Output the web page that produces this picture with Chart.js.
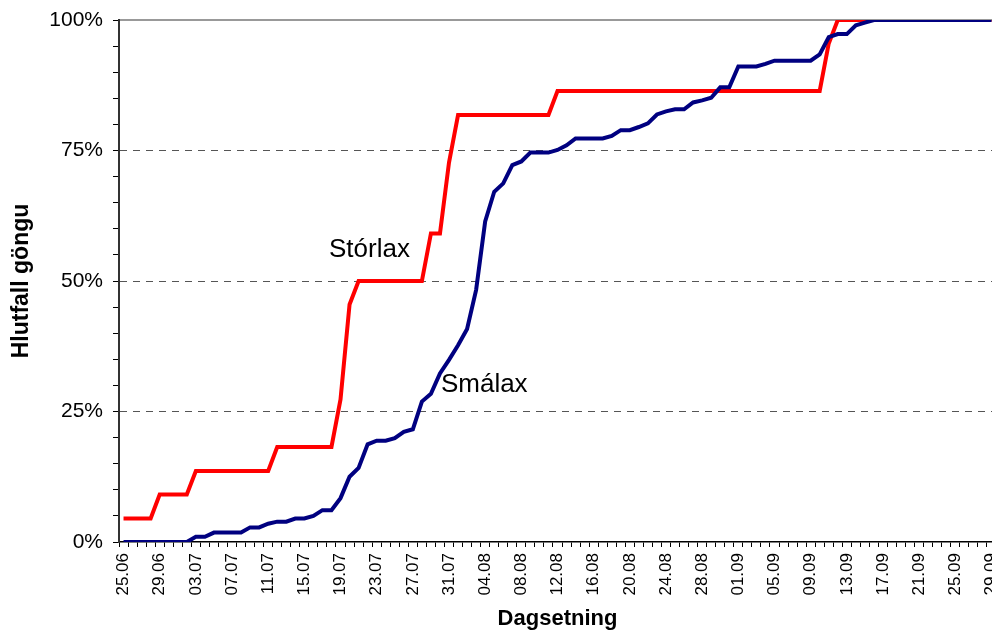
<!DOCTYPE html>
<html>
<head>
<meta charset="utf-8">
<script src="https://cdn.jsdelivr.net/npm/chart.js@4/dist/chart.umd.min.js"></script>
<style>
  html, body { margin: 0; padding: 0; background: #fff; overflow: hidden; }
  #wrap { width: 1000px; height: 632px; position: relative; }
</style>
</head>
<body>
<div id="wrap"><canvas id="myChart"></canvas></div>
<script>
// dagsetningar 25.06 - 29.09
const dates = [
  '25.06','26.06','27.06','28.06','29.06','30.06',
  '01.07','02.07','03.07','04.07','05.07','06.07','07.07','08.07','09.07','10.07','11.07','12.07','13.07','14.07','15.07','16.07',
  '17.07','18.07','19.07','20.07','21.07','22.07','23.07','24.07','25.07','26.07','27.07','28.07','29.07','30.07','31.07',
  '01.08','02.08','03.08','04.08','05.08','06.08','07.08','08.08','09.08','10.08','11.08','12.08','13.08','14.08','15.08','16.08',
  '17.08','18.08','19.08','20.08','21.08','22.08','23.08','24.08','25.08','26.08','27.08','28.08','29.08','30.08','31.08',
  '01.09','02.09','03.09','04.09','05.09','06.09','07.09','08.09','09.09','10.09','11.09','12.09','13.09','14.09','15.09','16.09',
  '17.09','18.09','19.09','20.09','21.09','22.09','23.09','24.09','25.09','26.09','27.09','28.09','29.09'
];

// merktar dagsetningar a x-as
const xTickLabels = ['25.06','29.06','03.07','07.07','11.07','15.07','19.07','23.07','27.07','31.07','04.08','08.08',
  '12.08','16.08','20.08','24.08','28.08','01.09','05.09','09.09','13.09','17.09','21.09','25.09','29.09'];

const yTickLabels = [0, 25, 50, 75, 100];

// Stórlax, uppsafnad hlutfall (%)
const storlax = [
  4.5, 4.5, 4.5, 4.5, 9.1, 9.1, 9.1, 9.1,
  13.6, 13.6, 13.6, 13.6, 13.6, 13.6, 13.6, 13.6, 13.6,
  18.2, 18.2, 18.2, 18.2, 18.2, 18.2, 18.2,
  27.3, 45.5, 50, 50, 50, 50, 50, 50, 50, 50,
  59.1, 59.1, 72.7,
  81.8, 81.8, 81.8, 81.8, 81.8, 81.8, 81.8, 81.8, 81.8, 81.8, 81.8,
  86.4, 86.4, 86.4, 86.4, 86.4, 86.4, 86.4, 86.4, 86.4, 86.4,
  86.4, 86.4, 86.4, 86.4, 86.4, 86.4, 86.4, 86.4, 86.4, 86.4,
  86.4, 86.4, 86.4, 86.4, 86.4, 86.4, 86.4, 86.4, 86.4, 86.4,
  95.5,
  100, 100, 100, 100, 100, 100, 100, 100, 100, 100, 100, 100, 100, 100, 100, 100, 100, 100
];

// Smálax, uppsafnad hlutfall (%)
const smalax = [
  0, 0, 0, 0, 0, 0, 0, 0,
  1.0, 1.0, 1.8, 1.8, 1.8, 1.8, 2.8, 2.8, 3.5, 3.9, 3.9, 4.5, 4.5, 5.0, 6.1, 6.1,
  8.4, 12.5, 14.2, 18.7, 19.4, 19.4, 19.9, 21.1, 21.6, 26.9, 28.4, 32.3, 34.9, 37.7, 40.8, 48.3,
  61.4, 67.1, 68.7, 72.2, 72.9, 74.6, 74.6, 74.6, 75.1, 76.0, 77.3, 77.3, 77.3, 77.3, 77.8,
  78.9, 78.9, 79.5, 80.2, 81.9, 82.5, 82.9, 82.9, 84.2, 84.6, 85.1, 87.1, 87.1,
  91.1, 91.1, 91.1, 91.6, 92.2, 92.2, 92.2, 92.2, 92.2, 93.4, 96.7, 97.3, 97.3, 99.0, 99.5,
  100, 100, 100, 100, 100, 100, 100, 100, 100, 100, 100, 100, 100, 100
];

// textar inni i myndinni (stadsetning i gognum: dagur nr., %)
const notes = [
  { text: 'Stórlax', day: 27.2, pct: 54.6 },
  { text: 'Smálax', day: 39.9, pct: 28.7 }
];

const FONT = "'Liberation Sans', Arial, sans-serif";

const notePlugin = {
  id: 'notes',
  afterDatasetsDraw(chart) {
    const c = chart.ctx;
    const xs = chart.scales.x, ys = chart.scales.y;
    c.save();
    c.font = '26px ' + FONT;
    c.fillStyle = '#000';
    c.textAlign = 'center';
    c.textBaseline = 'alphabetic';
    notes.forEach(n => {
      c.fillText(n.text, xs.getPixelForValue(n.day), ys.getPixelForValue(n.pct));
    });
    c.restore();
  }
};

const ctx = document.getElementById('myChart');

new Chart(ctx, {
  type: 'line',
  data: {
    labels: dates,
    datasets: [{
      label: 'Smálax',
      data: smalax,
      borderColor: '#000080',
      borderWidth: 4,
      pointRadius: 0,
      tension: 0
    }, {
      label: 'Stórlax',
      data: storlax,
      borderColor: '#ff0000',
      borderWidth: 4,
      pointRadius: 0,
      tension: 0
    }]
  },
  options: {
    responsive: true,
    maintainAspectRatio: false,
    animation: false,
    layout: { padding: { top: 20, right: 4, left: 0, bottom: 0 } },
    plugins: {
      legend: { display: false },
      tooltip: { enabled: false }
    },
    scales: {
      x: {
        offset: true,
        grid: {
          offset: true,
          drawOnChartArea: false,
          drawTicks: true,
          tickLength: 5,
          tickColor: '#000'
        },
        border: { color: '#000', width: 1.5 },
        ticks: {
          autoSkip: false,
          minRotation: 90,
          maxRotation: 90,
          padding: 6,
          color: '#000',
          font: { family: FONT, size: 17 },
          callback: function (v, i) {
            const lab = dates[i];
            return xTickLabels.includes(lab) ? lab : '';
          }
        },
        title: {
          display: true,
          text: 'Dagsetning',
          color: '#000',
          font: { family: FONT, size: 22, weight: 'bold' },
          padding: { top: 0, bottom: 0 }
        },
        afterFit: function (s) {
          s.height = 90;
          s.paddingLeft = 0;
          s.paddingRight = 0;
        }
      },
      x2: {
        position: 'top',
        offset: true,
        grid: { display: false },
        border: { color: '#999', width: 2 },
        ticks: { display: false },
        afterFit: function (s) {
          s.height = 0;
          s.paddingLeft = 0;
          s.paddingRight = 0;
        }
      },
      y: {
        min: 0,
        max: 100,
        grid: {
          drawTicks: true,
          tickLength: 6,
          tickColor: '#000',
          color: function (c) {
            const v = c.tick ? c.tick.value : null;
            return (v === 25 || v === 50 || v === 75) ? '#555' : 'rgba(0,0,0,0)';
          }
        },
        border: { color: '#333', width: 2, dash: [7, 6] },
        ticks: {
          stepSize: 5,
          autoSkip: false,
          padding: 10,
          color: '#000',
          font: { family: FONT, size: 21 },
          callback: function (v) {
            return yTickLabels.includes(v) ? v + '%' : '';
          }
        },
        title: {
          display: true,
          text: 'Hlutfall göngu',
          color: '#000',
          font: { family: FONT, size: 23, weight: 'bold' },
          padding: { top: 8, bottom: 0 }
        },
        afterFit: function (s) {
          s.width = 119;
          s.paddingTop = 0;
          s.paddingBottom = 0;
        }
      }
    }
  },
  plugins: [notePlugin]
});
</script>
</body>
</html>
